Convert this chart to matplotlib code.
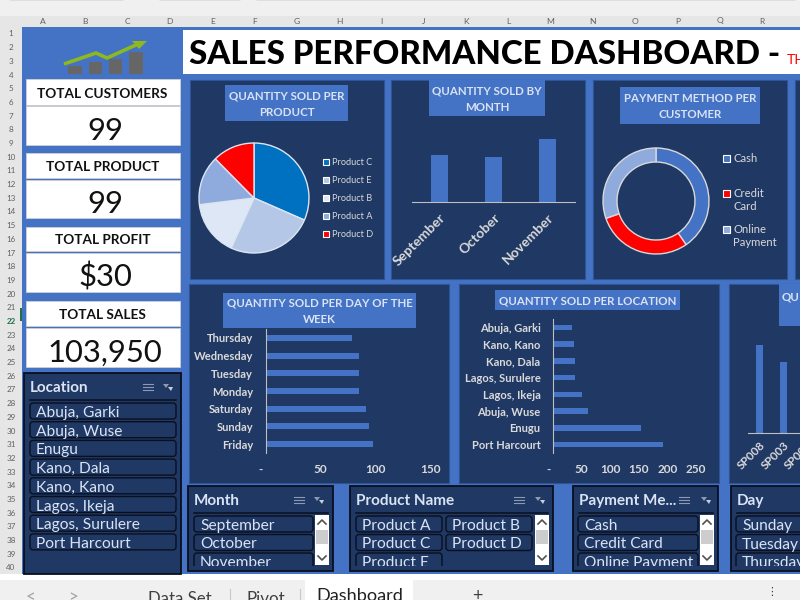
import matplotlib
matplotlib.use("Agg")
import matplotlib.pyplot as plt
from matplotlib.patches import Rectangle, FancyBboxPatch, Polygon
from matplotlib.ticker import FuncFormatter

plt.rcParams['font.family'] = ['Lato', 'DejaVu Sans']

W, H = 800, 600
NAVY = '#1F3864'
BLUE = '#4472C4'
LIGHT = '#DAE3F3'
TICK = '#D9D9D9'
AXIS = '#BFBFBF'

product_names = ['Product C', 'Product E', 'Product B', 'Product A', 'Product D']
product_qty = [191, 153, 98, 88, 75]
product_colors = ['#0070C0', '#B4C7E7', '#DEE7F5', '#8FAADC', '#FF0000']

months = ['September', 'October', 'November']
month_qty = [183, 176, 246]

payment_labels = ['Cash', 'Credit\nCard', 'Online\nPayment']
payment_count = [40, 29, 30]
payment_colors = [BLUE, '#FF0000', '#8FAADC']

days = ['Friday', 'Sunday', 'Saturday', 'Monday', 'Tuesday', 'Wednesday', 'Thursday']
day_qty = [98, 94, 92, 85, 85, 85, 79]

locations = ['Port Harcourt', 'Enugu', 'Abuja, Wuse', 'Lagos, Ikeja',
             'Lagos, Surulere', 'Kano, Dala', 'Kano, Kano', 'Abuja, Garki']
location_qty = [193, 153, 61, 50, 38, 38, 36, 33]

salespeople = ['SP008', 'SP003', 'SP002']
salesperson_qty = [88, 71, 66]

kpis = [('TOTAL CUSTOMERS', '99'), ('TOTAL PRODUCT', '99'),
        ('TOTAL PROFIT', '$30'), ('TOTAL SALES', '103,950')]
column_letters = list('ABCDEFGHIJKLMNOPQR')

fig = plt.figure(figsize=(8, 6), dpi=100, facecolor='white')
bg = fig.add_axes([0, 0, 1, 1])
bg.set_xlim(0, W)
bg.set_ylim(H, 0)
bg.axis('off')


def R(x0, y0, x1, y1, fc, ec='none', lw=0, z=1):
    p = Rectangle((x0, y0), x1 - x0, y1 - y0, fc=fc, ec=ec, lw=lw, zorder=z)
    bg.add_patch(p)
    return p


def T(x, y, s, px, color='black', ha='left', va='center', weight='normal', z=6, **kw):
    return bg.text(x, y, s, fontsize=px * 0.72, color=color, ha=ha, va=va,
                   fontweight=weight, zorder=z, **kw)


def sub(x0, y0, x1, y1):
    a = fig.add_axes([x0 / W, 1 - y1 / H, (x1 - x0) / W, (y1 - y0) / H])
    a.patch.set_alpha(0)
    return a


# ---------- Excel chrome
R(0, 0, W, 16, '#F0F0F0')
R(0, 16, W, 27, '#E6E6E6')
R(0, 16, 22, 600, '#E6E6E6')
for x0, x1 in [(5, 128), (155, 245), (252, 800)]:
    bg.add_patch(FancyBboxPatch((x0 + 3, -6), x1 - x0 - 6, 6, boxstyle='round,pad=0,rounding_size=3',
                                fc='white', ec='#D0D0D0', lw=0.8, zorder=2, mutation_aspect=1))
for i, c in enumerate(column_letters):
    T(43 + i * 42.3, 21, c, 8.5, color='#606060', ha='center')
for r in range(1, 41):
    y = 34 + (r - 1) * 13.69
    T(11, y, str(r), 8, color='#1E7145' if r == 22 else '#606060', ha='center',
      weight='bold' if r == 22 else 'normal')
R(20, 308, 22, 321, '#1E7145', z=3)

R(22, 27, W, 574, BLUE)
R(0, 574, W, 580, 'white')
R(0, 580, W, 600, '#F0F0F0')
R(305, 580, 413, 600, 'white')
for x in (230, 300):
    bg.plot([x, x], [589, 600], color='#C8C8C8', lw=0.8, zorder=3)
T(31, 597, '<', 17, color='#A0A0A0', ha='center')
T(73, 597, '>', 17, color='#A0A0A0', ha='center')
T(148, 599, 'Data Set', 16.8, color='#404040')
T(247, 599, 'Pivot', 17, color='#404040')
T(316, 596, 'Dashboard', 18.2, color='#202020')
T(477, 596, '+', 18, color='#404040', ha='center')
T(772, 592, '⋮', 11, color='#404040', ha='center')

# ---------- Title
R(183, 30, W, 74, 'white')
T(189, 55, 'SALES PERFORMANCE DASHBOARD -', 33, weight='black')
T(787, 60, 'TH', 14, color='#FF0000')

# ---------- Logo
for x0, x1, top in [(68, 82, 66), (89, 102, 62), (109, 122, 59), (129, 143, 52)]:
    R(x0, top, x1, 74, '#666666', z=2)
bg.plot([64, 96, 107, 138], [64, 53, 58, 44], color='#8DB81E', lw=2.6, zorder=3, solid_capstyle='butt')
bg.add_patch(Polygon([[132, 41], [147, 41], [139, 49]], fc='#8DB81E', ec='none', zorder=3))

# ---------- KPI cards
card_boxes = [(79, 105, 106, 145), (153, 178, 180, 218), (227, 251, 253, 292), (301, 326, 328, 367)]
for (label, value), (a, b, c, d) in zip(kpis, card_boxes):
    R(26, a, 180, b, 'white', ec='#D0D0D0', lw=0.6, z=2)
    R(26, c, 180, d, 'white', ec='#D0D0D0', lw=0.6, z=2)
    T(102.5, (a + b) / 2 + 1.5, label, 13.6, ha='center', weight='bold', color='#111111')
    T(105, (c + d) / 2 + 5, value, 31, ha='center', color='#111111')

# ---------- Panels
for x0, y0, x1, y1 in [(190, 80, 384, 279), (391, 80, 585, 279), (593, 80, 787, 279), (795, 80, 810, 279),
                       (189, 284, 449, 483), (459, 284, 719, 483), (729, 284, 810, 483)]:
    R(x0, y0, x1, y1, NAVY, ec='#2F5597', lw=0.8)

titles = [((225, 85, 348, 121), 'QUANTITY SOLD PER\nPRODUCT'),
          ((429, 80, 545, 116), 'QUANTITY SOLD BY\nMONTH'),
          ((620, 87, 760, 124), 'PAYMENT METHOD PER\nCUSTOMER'),
          ((223, 293, 416, 328), 'QUANTITY SOLD PER DAY OF THE\nWEEK'),
          ((495, 290, 680, 310), 'QUANTITY SOLD PER LOCATION')]
for (x0, y0, x1, y1), s in titles:
    R(x0, y0, x1, y1, BLUE, z=2)
    T((x0 + x1) / 2, (y0 + y1) / 2 + 1, s, 11.5, color=LIGHT, ha='center', linespacing=1.65, weight='bold')
R(779, 284, 810, 326, BLUE, z=2)
T(782, 297, 'QU', 11.5, color=LIGHT, weight='bold')

# ---------- Pie
a = sub(254 - 68.75, 198 - 68.75, 254 + 68.75, 198 + 68.75)
a.pie(product_qty, colors=product_colors, startangle=90, counterclock=False,
      wedgeprops=dict(edgecolor='#DDE5F2', linewidth=1))
for i, (n, c) in enumerate(zip(product_names, product_colors)):
    y = 162 + i * 18
    R(322.5, y - 3, 329, y + 3, c, ec='white', lw=0.8, z=4)
    T(332, y + 0.5, n, 9.2, color=TICK)

# ---------- Month columns
a = sub(412, 125, 575, 202)
a.bar(months, month_qty, width=0.31, color=BLUE)
a.set_xlim(-0.5, 2.5)
a.set_ylim(0, 300)
for s in ['top', 'right', 'left']:
    a.spines[s].set_visible(False)
a.spines['bottom'].set_color(AXIS)
a.set_yticks([])
a.tick_params(axis='x', length=0, pad=7, colors=TICK)
plt.setp(a.get_xticklabels(), rotation=45, ha='right', rotation_mode='anchor', fontsize=10, fontweight='bold')

# ---------- Donut
a = sub(656 - 66.25, 201 - 66.25, 656 + 66.25, 201 + 66.25)
a.pie(payment_count, colors=payment_colors, startangle=90, counterclock=False,
      wedgeprops=dict(width=14 / 53, edgecolor='#D9D9D9', linewidth=1))
for y, n, c in zip([158, 193, 229], payment_labels, payment_colors):
    R(723, y - 3, 730, y + 4, c, ec='white', lw=0.8, z=4)
    T(733, y - 5, n, 11.2, color=TICK, va='top', linespacing=1.25)


# ---------- Horizontal bars
def hbars(box, names, vals, xmax, step):
    a = sub(*box)
    a.barh(names, vals, height=0.34, color=BLUE)
    a.set_xlim(0, xmax)
    a.set_ylim(-0.5, len(names) - 0.5)
    for s in ['top', 'right', 'bottom']:
        a.spines[s].set_visible(False)
    a.spines['left'].set_color(AXIS)
    a.set_xticks(range(0, xmax + 1, step))
    a.xaxis.set_major_formatter(FuncFormatter(lambda v, p: '-   ' if v == 0 else f'{v:.0f}'))
    a.tick_params(axis='y', length=0, pad=9, colors=TICK, labelsize=8)
    a.tick_params(axis='x', length=0, pad=8, colors=TICK, labelsize=8.5)
    plt.setp(a.get_yticklabels() + a.get_xticklabels(), fontweight='bold')
    return a


hbars((265.5, 329, 430, 453), days, day_qty, 150, 50)
hbars((553, 319, 696, 453), locations, location_qty, 250, 50)

# ---------- Salesperson columns (runs past the right edge)
a = sub(748, 345 - 32, 748 + 23.5 * 4, 433)
a.bar(salespeople, salesperson_qty, width=0.3, color=BLUE)
a.set_xlim(-0.5, 3.5)
a.set_ylim(0, 120)
for s in ['top', 'right', 'left']:
    a.spines[s].set_visible(False)
a.spines['bottom'].set_color(AXIS)
a.set_yticks([])
a.tick_params(axis='x', length=0, pad=5, colors=TICK)
plt.setp(a.get_xticklabels(), rotation=45, ha='right', rotation_mode='anchor', fontsize=8.5, fontweight='bold')


# ---------- Slicers
def icons(x1, x2, y):
    for dy in (-3, 0, 3):
        bg.plot([x1 - 2, x1 + 5], [y + dy, y + dy], color='#8E9AAF', lw=0.8, zorder=6)
        bg.plot([x1 - 5, x1 - 3], [y + dy, y + dy], color='#8E9AAF', lw=0.8, zorder=6)
    bg.add_patch(Polygon([[x2 - 5, y - 3], [x2 + 1, y - 3], [x2 - 2, y + 1]], fc='#8E9AAF', ec='none', zorder=6))
    bg.add_patch(Polygon([[x2, y], [x2 + 5, y], [x2 + 3, y + 4]], fc='#C9CED8', ec='none', zorder=6))


def item(x0, y0, x1, y1, s, clip):
    p = FancyBboxPatch((x0 + 3, y0 + 3), x1 - x0 - 6, y1 - y0 - 6, boxstyle='round,pad=3',
                       fc=NAVY, ec='#0A0F1E', lw=1.0, zorder=5)
    bg.add_patch(p)
    p.set_clip_path(clip)
    t = T(x0 + 6, (y0 + y1) / 2 + 2, s, 15.5, color=LIGHT)
    t.set_clip_path(clip)
    t.set_clip_on(True)


def slicer(x0, y0, x1, y1, title, iconx=None):
    R(x0, y0, x1, y1, NAVY, ec='#0A0F1E', lw=1.3, z=2)
    T(x0 + 6, y0 + 15, title, 15.3, color=LIGHT, weight='bold')
    bg.plot([x0 + 6, x1 - 5], [y0 + 27, y0 + 27], color='#0A0F1E', lw=1.1, zorder=3)
    if iconx:
        icons(*iconx, y0 + 14)


def scrollbar(x0, y0, y1):
    R(x0, y0, x0 + 14, y1, 'white', z=4)
    R(x0 + 1, y0 + 15, x0 + 13, y0 + 29, '#CDCDCD', z=5)
    bg.plot([x0 + 3, x0 + 7, x0 + 11], [y0 + 9, y0 + 5, y0 + 9], color='#505050', lw=1.2, zorder=6)
    bg.plot([x0 + 3, x0 + 7, x0 + 11], [y1 - 9, y1 - 5, y1 - 9], color='#505050', lw=1.2, zorder=6)


location_items = ['Abuja, Garki', 'Abuja, Wuse', 'Enugu', 'Kano, Dala', 'Kano, Kano',
                  'Lagos, Ikeja', 'Lagos, Surulere', 'Port Harcourt']
slicer(24, 373, 181, 574, 'Location', (148, 168))
loc_clip = Rectangle((24, 373), 157, 201, transform=bg.transData)
for i, s in enumerate(location_items):
    y = 403 + i * 18.7
    item(30, y, 176, y + 16, s, loc_clip)

row_y = [516, 534.5, 553]
slicer(188, 486, 333, 571, 'Month', (299, 319))
clip = Rectangle((188, 486), 145, 80, transform=bg.transData)
for y, s in zip(row_y, months):
    item(194, y, 313, y + 16, s, clip)
scrollbar(315, 515, 565)

slicer(350, 486, 553, 571, 'Product Name', (519, 540))
clip = Rectangle((350, 486), 203, 80, transform=bg.transData)
for y, s in zip(row_y, ['Product A', 'Product C', 'Product E']):
    item(356, y, 442, y + 16, s, clip)
for y, s in zip(row_y, ['Product B', 'Product D']):
    item(446, y, 532, y + 16, s, clip)
scrollbar(535, 515, 565)

slicer(573, 486, 718, 571, 'Payment Me...', (684, 706))
clip = Rectangle((573, 486), 145, 80, transform=bg.transData)
for y, s in zip(row_y, ['Cash', 'Credit Card', 'Online Payment']):
    item(578, y, 698, y + 16, s, clip)
scrollbar(700, 515, 565)

slicer(731, 486, 830, 571, 'Day')
clip = Rectangle((731, 486), 99, 80, transform=bg.transData)
for y, s in zip(row_y, ['Sunday', 'Tuesday', 'Thursday']):
    item(736, y, 830, y + 16, s, clip)

fig.savefig('out.png', dpi=100)
